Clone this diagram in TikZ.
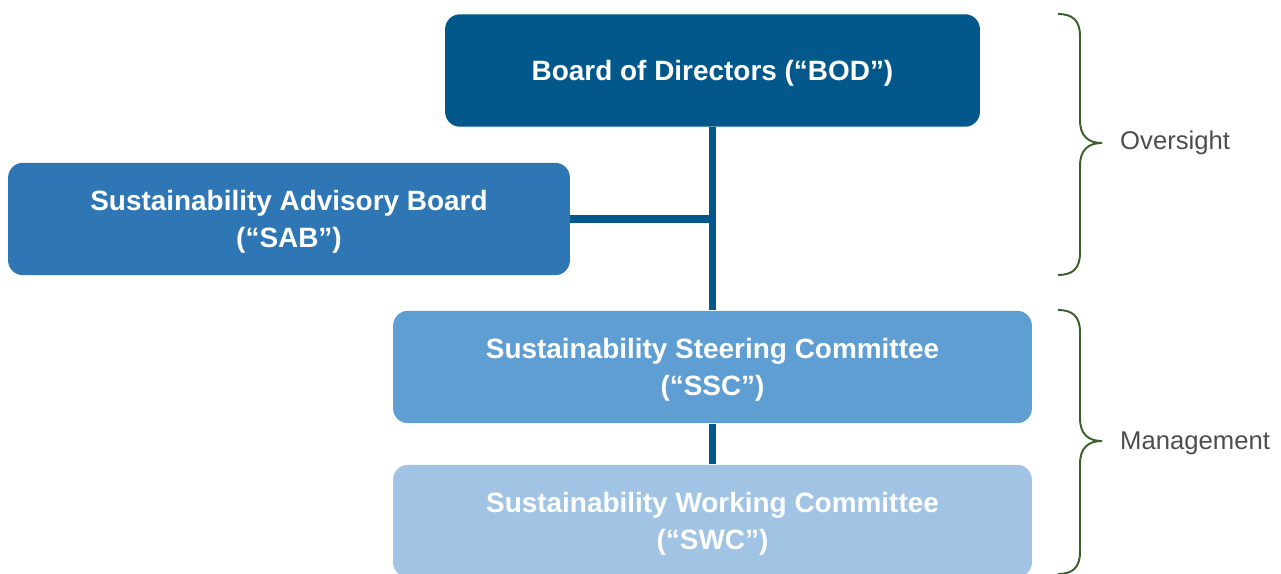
\documentclass[tikz,border=0pt]{standalone}
\usepackage{fontspec}
\setmainfont{Liberation Sans}
\usepackage{tikz}
\usetikzlibrary{positioning, calc}
\definecolor{bodblue}{HTML}{03588B}
\definecolor{sabblue}{HTML}{2F76B5}
\definecolor{sscblue}{HTML}{5F9ED3}
\definecolor{swcblue}{HTML}{A1C4E5}
\definecolor{bracegreen}{HTML}{3A5F2A}
\definecolor{labelgray}{HTML}{4D4D4D}
% taller first line, pushes the text a little lower in its box
\newcommand{\toplift}[1]{\rule{0pt}{#1}}

\begin{document}
\begin{tikzpicture}[x=0.02cm, y=-0.02cm,
  unit/.style={rectangle, rounded corners=0.3cm, text=white, align=center,
    font=\fontsize{15.9}{21}\selectfont\bfseries, minimum height=2.25cm, inner sep=0pt},
  link/.style={bodblue, line width=4pt},
  curly/.style={bracegreen, line width=1.1pt},
  side/.style={labelgray, font=\fontsize{14.6}{17}\selectfont, anchor=west}]
\useasboundingbox (0,0) rectangle (1281,574);
% committee boxes
\node[unit, fill=bodblue, minimum width=10.7cm] (bod) at (712.5,70.5) {\toplift{15pt}Board of Directors (“BOD”)};
\node[unit, fill=sabblue, minimum width=11.24cm] (sab) at (289,219) {\toplift{14.7pt}Sustainability Advisory Board\\(“SAB”)};
\node[unit, fill=sscblue, minimum width=12.78cm] (ssc) at (712.5,367) {\toplift{14.7pt}Sustainability Steering Committee\\(“SSC”)};
\node[unit, fill=swcblue, minimum width=12.78cm] (swc) at (712.5,521) {\toplift{14.7pt}Sustainability Working Committee\\(“SWC”)};
% reporting lines
\draw[link] (bod.south) -- (ssc.north);
\draw[link] (sab.east) -- (sab.east -| bod.south);
\draw[link] (ssc.south) -- (swc.north);
% braces
\coordinate (ovtop) at (1058,14);
\coordinate (ovtip) at (1102,143);
\coordinate (ovbot) at (1058,275);
\draw[curly] (ovtop) .. controls (1072,14) and (1080,20) .. (1080,36) -- (1080,120)
  .. controls (1080,136) and (1088,143) .. (ovtip)
  .. controls (1088,143) and (1080,150) .. (1080,166) -- (1080,253)
  .. controls (1080,269) and (1072,275) .. (ovbot);
\node[side] (oversight) at (1114,143) {Oversight};
\coordinate (mgtop) at (1058,310);
\coordinate (mgtip) at (1102,441);
\coordinate (mgbot) at (1058,574);
\draw[curly] (mgtop) .. controls (1072,310) and (1080,316) .. (1080,332) -- (1080,418)
  .. controls (1080,434) and (1088,441) .. (mgtip)
  .. controls (1088,441) and (1080,448) .. (1080,464) -- (1080,552)
  .. controls (1080,568) and (1072,574) .. (mgbot);
\node[side] (management) at (1114,443) {Management};
\end{tikzpicture}
\end{document}
